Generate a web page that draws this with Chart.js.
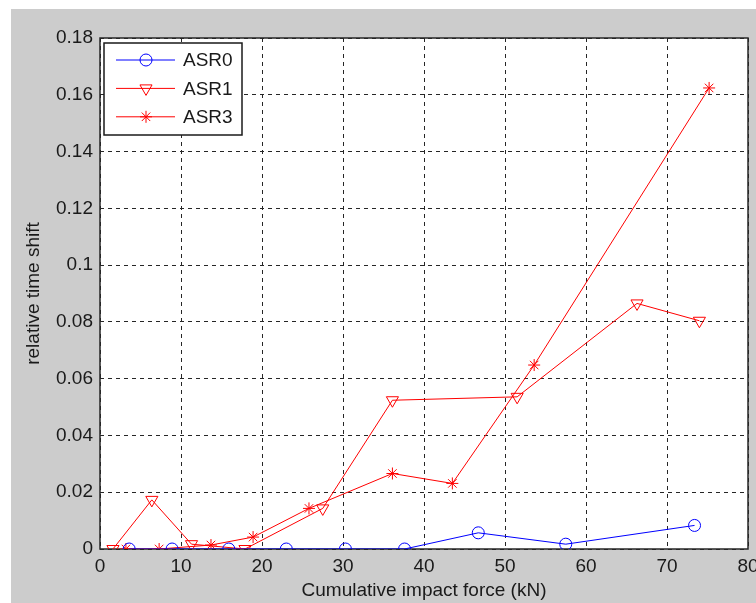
<!DOCTYPE html>
<html>
<head>
<meta charset="utf-8">
<script src="https://cdn.jsdelivr.net/npm/chart.js@4/dist/chart.umd.min.js"></script>
<style>
  html, body { margin: 0; padding: 0; background: #fff; }
  canvas { display: block; }
</style>
</head>
<body>
<canvas id="c" width="756" height="603"></canvas>
<script>
// ── data ──────────────────────────────────────────────────
const ASR0_X = [3.6, 8.9, 15.9, 23.0, 30.3, 37.6, 46.7, 57.5, 73.4];
const ASR0_Y = [0, 0, 0, 0, 0, 0, 0.0057, 0.0017, 0.0083];

const ASR1_X = [1.6, 6.4, 11.3, 17.9, 27.5, 36.1, 51.5, 66.3, 74.0];
const ASR1_Y = [0, 0.0173, 0.0017, 0, 0.0143, 0.0524, 0.0536, 0.0865, 0.0804];

const ASR3_X = [3.2, 7.3, 13.7, 18.9, 25.8, 36.1, 43.5, 53.6, 75.2];
const ASR3_Y = [0, 0, 0.0014, 0.0042, 0.0143, 0.0266, 0.0231, 0.0648, 0.1624];

const X_TICKS = [0, 10, 20, 30, 40, 50, 60, 70, 80];
const Y_TICKS = [0, 0.02, 0.04, 0.06, 0.08, 0.1, 0.12, 0.14, 0.16, 0.18];

const FONT = "'Liberation Sans', Arial, sans-serif";
const TXT = '#1a1a1a';

const pts = (xs, ys) => xs.map((x, i) => ({ x, y: ys[i] }));

function series(label, xs, ys, color, style, radius, rotation) {
  return {
    label,
    data: pts(xs, ys),
    showLine: true,
    borderColor: color,
    borderWidth: 1,
    pointStyle: style,
    pointRadius: radius,
    pointRotation: rotation || 0,
    pointBorderColor: color,
    pointBackgroundColor: 'rgba(0,0,0,0)',
    pointBorderWidth: 1,
  };
}

// gray figure background, white axes area
const bgPlugin = {
  id: 'bg',
  beforeDraw(chart) {
    const { ctx, chartArea: a } = chart;
    ctx.save();
    ctx.fillStyle = '#fff';
    ctx.fillRect(0, 0, chart.width, chart.height);
    ctx.fillStyle = '#cccccc';
    ctx.fillRect(11, 9, chart.width - 11, chart.height - 9);
    ctx.fillStyle = '#fff';
    ctx.fillRect(a.left, a.top, a.right - a.left, a.bottom - a.top);
    ctx.restore();
  },
  beforeDatasetsDraw(chart) {
    const { ctx, chartArea: a } = chart;
    ctx.save();
    ctx.strokeStyle = '#262626';
    ctx.lineWidth = 1.5;
    ctx.strokeRect(a.left, a.top, a.right - a.left, a.bottom - a.top);
    ctx.restore();
  },
};

// MATLAB-style legend inside the axes, top left
const legendPlugin = {
  id: 'boxLegend',
  afterDraw(chart) {
    const { ctx, chartArea: a } = chart;
    const x0 = a.left + 4, y0 = a.top + 5, w = 138, h = 92;
    ctx.save();
    ctx.fillStyle = '#fff';
    ctx.fillRect(x0, y0, w, h);
    ctx.strokeStyle = '#1a1a1a';
    ctx.lineWidth = 1.5;
    ctx.strokeRect(x0, y0, w, h);
    chart.data.datasets.forEach((ds, i) => {
      const y = y0 + 17 + i * 28.4;
      ctx.strokeStyle = ds.borderColor;
      ctx.lineWidth = 1;
      ctx.beginPath();
      ctx.moveTo(x0 + 12, y);
      ctx.lineTo(x0 + 71, y);
      ctx.stroke();
      ctx.fillStyle = 'rgba(0,0,0,0)';
      Chart.helpers.drawPoint(ctx, {
        pointStyle: ds.pointStyle,
        radius: ds.pointRadius,
        rotation: ds.pointRotation,
        borderWidth: 1,
      }, x0 + 42, y);
      ctx.fillStyle = TXT;
      ctx.font = '19px ' + FONT;
      ctx.textBaseline = 'middle';
      ctx.textAlign = 'left';
      ctx.fillText(ds.label, x0 + 79, y + 1);
    });
    ctx.restore();
  },
};

new Chart(document.getElementById('c'), {
  type: 'scatter',
  data: {
    datasets: [
      series('ASR0', ASR0_X, ASR0_Y, '#0000ff', 'circle', 6),
      series('ASR1', ASR1_X, ASR1_Y, '#ff0000', 'triangle', 7, 180),
      series('ASR3', ASR3_X, ASR3_Y, '#ff0000', 'star', 6),
    ],
  },
  plugins: [bgPlugin, legendPlugin],
  options: {
    responsive: false,
    animation: false,
    layout: { padding: { top: 38, right: 7, left: 0, bottom: 0 } },
    plugins: {
      legend: { display: false },
      tooltip: { enabled: false },
    },
    scales: {
      x: {
        type: 'linear',
        min: 0,
        max: 80,
        afterFit: s => { s.height = 54; s.paddingLeft = 0; s.paddingRight = 0; },
        afterBuildTicks: s => { s.ticks = X_TICKS.map(v => ({ value: v })); },
        grid: { color: '#262626', lineWidth: 1, drawTicks: false },
        border: { display: false, dash: [4, 4] },
        ticks: { color: TXT, font: { family: FONT, size: 19 }, padding: 6 },
        title: {
          display: true,
          text: 'Cumulative impact force (kN)',
          color: TXT,
          font: { family: FONT, size: 19 },
          padding: { top: 0, bottom: 1 },
        },
      },
      y: {
        type: 'linear',
        min: 0,
        max: 0.18,
        afterFit: s => { s.width = 100; s.paddingTop = 0; s.paddingBottom = 0; },
        afterBuildTicks: s => { s.ticks = Y_TICKS.map(v => ({ value: v })); },
        grid: { color: '#262626', lineWidth: 1, drawTicks: false },
        border: { display: false, dash: [4, 4] },
        ticks: {
          color: TXT,
          font: { family: FONT, size: 19 },
          padding: 7,
          callback: v => String(Number(v.toFixed(2))),
        },
        title: {
          display: true,
          text: 'relative time shift',
          color: TXT,
          font: { family: FONT, size: 19 },
          padding: { top: 22, bottom: 0 },
        },
      },
    },
  },
});
</script>
</body>
</html>
